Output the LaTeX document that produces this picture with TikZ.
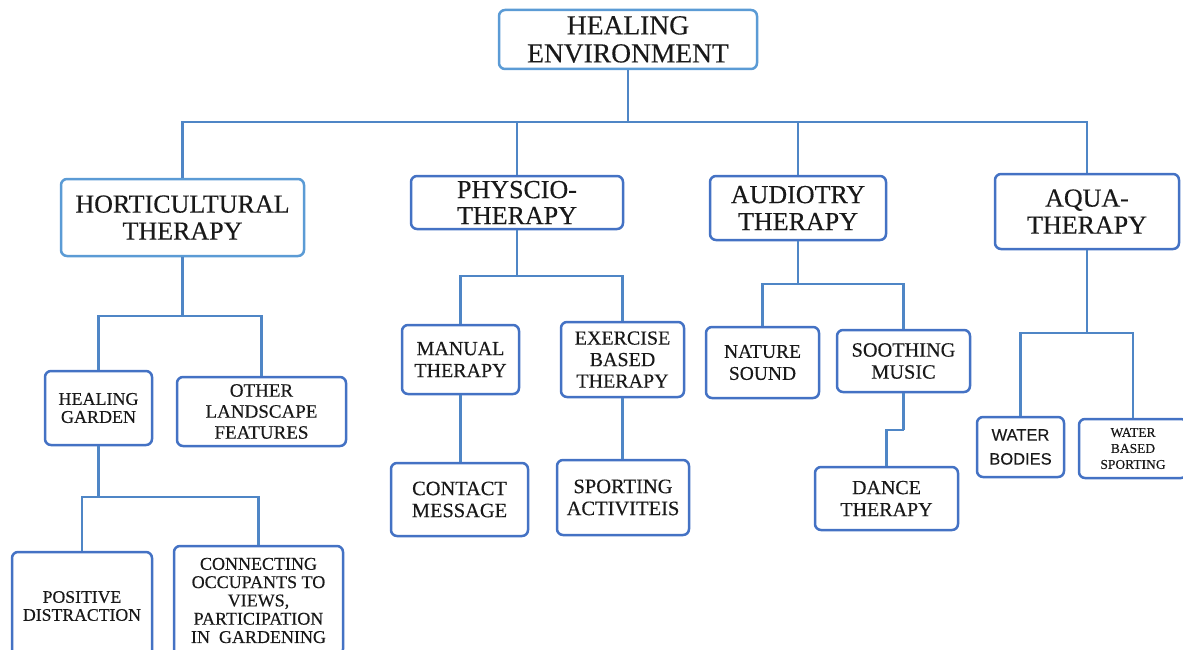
\documentclass[tikz,border=0pt]{standalone}
\usepackage{fontspec}
\setmainfont{Liberation Serif}
\newfontfamily\heavy[FakeBold=0.3]{Liberation Serif}
\newfontfamily\sansf[FakeBold=0.2]{Liberation Sans}
\definecolor{lightb}{HTML}{5B9BD5}
\definecolor{darkb}{HTML}{4472C4}
\definecolor{linec}{HTML}{4F86C6}
\tikzset{
  bx/.style={draw=darkb, line width=2.5pt, rounded corners=6pt, fill=white, align=center, inner sep=0pt, text=black!90},
  lbx/.style={bx, draw=lightb},
  conn/.style={draw=linec, line width=2.8pt},
  fs/.style 2 args={font=\heavy\fontsize{#1}{#2}\selectfont}
}
\begin{document}
\begin{tikzpicture}[x=1pt,y=-1pt]
\useasboundingbox (0,0) rectangle (1183,650);
\clip (0,0) rectangle (1183,650);
% bus coordinates
\coordinate (b0) at (628,122);
\coordinate (b1) at (182.5,316);
\coordinate (b2) at (517,276);
\coordinate (b3) at (798,284);
\coordinate (b4) at (1087,333);
\coordinate (b5) at (98.5,497);
\coordinate (b6) at (903.5,430);
% nodes
\node[lbx, fs={27.5}{28}, minimum width=258pt, minimum height=59pt] (root) at (628,39.5) {HEALING\\ENVIRONMENT};
\node[lbx, fs={26}{27}, minimum width=243pt, minimum height=77pt] (hort) at (182.5,217.5) {HORTICULTURAL\\THERAPY};
\node[bx, fs={26}{26}, minimum width=212pt, minimum height=53pt] (phys) at (517,202.5) {PHYSCIO-\\THERAPY};
\node[bx, fs={26}{27}, minimum width=176pt, minimum height=64pt] (aud) at (798,208) {AUDIOTRY\\THERAPY};
\node[bx, fs={26}{27}, minimum width=184pt, minimum height=75pt] (aqua) at (1087,211.5) {AQUA-\\THERAPY};
\node[bx, fs={18}{18}, minimum width=107pt, minimum height=74pt] (hg) at (98.5,408) {HEALING\\GARDEN};
\node[bx, fs={19}{21}, minimum width=169pt, minimum height=69pt] (olf) at (261.5,411.5) {OTHER\\LANDSCAPE\\FEATURES};
\node[bx, fs={17.7}{18}, minimum width=140pt, minimum height=108pt] (pd) at (82,606) {POSITIVE\\DISTRACTION};
\node[bx, fs={18}{18.3}, minimum width=169pt, minimum height=109pt] (cov) at (258.5,600.5) {CONNECTING\\OCCUPANTS TO\\VIEWS,\\PARTICIPATION\\IN\ \ GARDENING};
\node[bx, fs={20}{22}, minimum width=117pt, minimum height=69pt] (man) at (460.5,359.5) {MANUAL\\THERAPY};
\node[bx, fs={20}{21.5}, minimum width=123pt, minimum height=75pt] (exe) at (622.5,359.5) {EXERCISE\\BASED\\THERAPY};
\node[bx, fs={20.4}{22}, minimum width=137pt, minimum height=73pt] (con) at (459.5,499.5) {CONTACT\\MESSAGE};
\node[bx, fs={20.5}{22}, minimum width=132pt, minimum height=75pt] (spo) at (623,497.5) {SPORTING\\ACTIVITEIS};
\node[bx, fs={19.5}{22}, minimum width=113pt, minimum height=71pt] (nat) at (762.5,362.5) {NATURE\\SOUND};
\node[bx, fs={20.3}{22}, minimum width=133pt, minimum height=62pt] (soo) at (903.5,361) {SOOTHING\\MUSIC};
\node[bx, fs={20}{22}, minimum width=143pt, minimum height=63pt] (dan) at (886.5,498.5) {DANCE\\THERAPY};
\node[bx, font=\sansf\fontsize{16.5}{24}\selectfont, minimum width=87pt, minimum height=60pt] (wb) at (1020.5,447) {WATER\\BODIES};
\node[bx, fs={13.5}{16}, minimum width=108pt, minimum height=59pt] (wbs) at (1133,448.5) {WATER\\BASED\\SPORTING};
% connectors
\draw[conn] (root.south) -- (b0);
\draw[conn] (hort.north) |- (b0);
\draw[conn] (phys.north) |- (b0);
\draw[conn] (aud.north) |- (b0);
\draw[conn] (aqua.north) |- (b0);
\draw[conn] (hort.south) -- (b1);
\draw[conn] (hg.north) |- (b1);
\draw[conn] (olf.north) |- (b1);
\draw[conn] (hg.south) -- (b5);
\draw[conn] (pd.north) |- (b5);
\draw[conn] (cov.north) |- (b5);
\draw[conn] (phys.south) -- (b2);
\draw[conn] (man.north) |- (b2);
\draw[conn] (exe.north) |- (b2);
\draw[conn] (man.south) -- (man.south |- con.north);
\draw[conn] (exe.south) -- (exe.south |- spo.north);
\draw[conn] (aud.south) -- (b3);
\draw[conn] (nat.north) |- (b3);
\draw[conn] (soo.north) |- (b3);
\draw[conn] (soo.south) -- (b6);
\draw[conn] (dan.north) |- (b6);
\draw[conn] (aqua.south) -- (b4);
\draw[conn] (wb.north) |- (b4);
\draw[conn] (wbs.north) |- (b4);
\end{tikzpicture}
\end{document}
